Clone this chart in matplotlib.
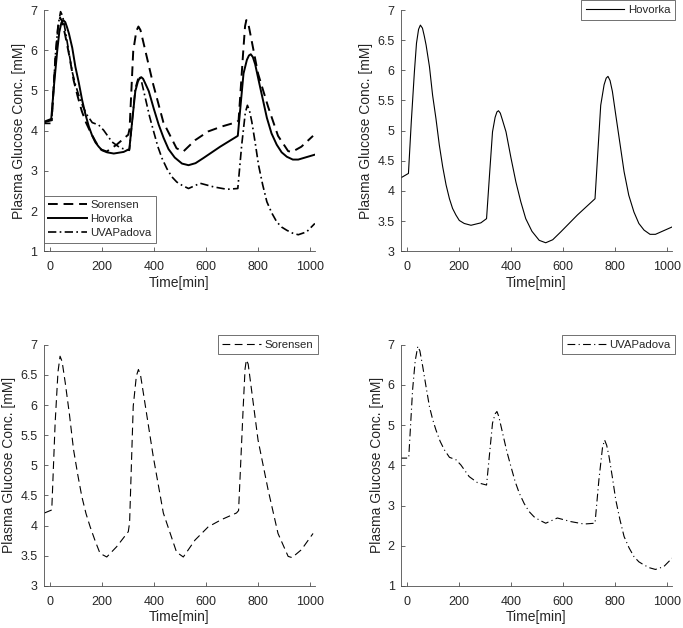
import matplotlib
matplotlib.use("Agg")
import matplotlib.pyplot as plt

plt.rcParams['font.family'] = ['Liberation Sans', 'DejaVu Sans']

# readings from the reference (time in min, glucose in mM)
hov_t = [-28, 4, 15, 27, 35, 43, 50, 58, 65, 72, 85, 97, 110, 123, 136, 149, 162, 174, 187, 200,
         219, 245, 283, 305, 317, 328, 338, 345, 351, 358, 366, 380, 399, 418, 437, 456, 480, 508, 533, 560,
         591, 655, 723, 734, 745, 758, 766, 773, 781, 790, 803, 818, 835, 853, 873, 892, 912, 935, 956, 1019]
hov_v = [4.21, 4.29, 5.15, 5.98, 6.45, 6.68, 6.75, 6.70, 6.57, 6.42, 6.06, 5.59, 5.20, 4.76, 4.40, 4.10, 3.87, 3.71, 3.60, 3.51,
         3.46, 3.43, 3.47, 3.54, 4.3, 4.98, 5.22, 5.31, 5.33, 5.29, 5.18, 4.98, 4.55, 4.15, 3.82, 3.54, 3.33, 3.18, 3.14, 3.19,
         3.32, 3.60, 3.87, 4.65, 5.42, 5.76, 5.87, 5.90, 5.83, 5.65, 5.26, 4.82, 4.32, 3.93, 3.65, 3.46, 3.35, 3.28, 3.28, 3.40]

sor_t = [-22, 6, 19, 30, 38, 46, 58, 74, 90, 106, 122, 138, 154, 173, 192, 218, 256, 301, 306, 320,
         332, 340, 348, 359, 397, 436, 487, 513, 558, 609, 660, 718, 726, 744, 751, 756, 763, 776, 801, 840,
         878, 917, 932, 968, 1013]
sor_v = [4.21, 4.26, 5.7, 6.55, 6.81, 6.72, 6.37, 5.85, 5.26, 4.85, 4.48, 4.2, 3.98, 3.75, 3.54, 3.48, 3.65, 3.90, 4.05, 5.98,
         6.48, 6.59, 6.50, 6.20, 5.15, 4.21, 3.56, 3.48, 3.76, 3.98, 4.10, 4.21, 4.25, 5.98, 6.6, 6.75, 6.68, 6.25, 5.42, 4.59,
         3.87, 3.49, 3.47, 3.60, 3.87]

uva_t = [-31, 5, 20, 30, 40, 48, 59, 72, 85, 97, 110, 126, 142, 162, 187, 206, 238, 270, 305, 328,
         338, 345, 352, 367, 383, 399, 415, 431, 450, 469, 488, 508, 533, 578, 630, 681, 723, 738, 752, 760,
         768, 777, 790, 803, 819, 835, 854, 873, 892, 912, 934, 956, 988, 1020]
uva_v = [4.18, 4.18, 5.88, 6.6, 6.96, 6.85, 6.46, 5.95, 5.46, 5.15, 4.88, 4.6, 4.39, 4.20, 4.14, 4.01, 3.72, 3.57, 3.51, 5.05,
         5.28, 5.34, 5.22, 4.80, 4.35, 3.97, 3.6, 3.31, 3.05, 2.85, 2.72, 2.64, 2.56, 2.69, 2.60, 2.54, 2.56, 3.64, 4.45, 4.63,
         4.50, 4.22, 3.7, 3.14, 2.65, 2.23, 1.95, 1.73, 1.6, 1.52, 1.45, 1.41, 1.48, 1.69]

xticks = [0, 200, 400, 600, 800, 1000]
yticks_wide = [1, 2, 3, 4, 5, 6, 7]
yticks_narrow = [3, 3.5, 4, 4.5, 5, 5.5, 6, 6.5, 7]

DASH = (0, (7, 4))
DASHDOT = (0, (7, 3, 1, 3))
gray = '0.15'

fig = plt.figure(figsize=(6.83, 6.28), dpi=100)


def style(ax, yticks, ylim):
    ax.set_xlim(-25, 1020)
    ax.set_ylim(*ylim)
    ax.set_xticks(xticks)
    ax.set_yticks(yticks)
    ax.set_yticklabels([f'{v:g}' for v in yticks])
    for s in ['top', 'right']:
        ax.spines[s].set_visible(False)
    for s in ['left', 'bottom']:
        ax.spines[s].set_color('0.3')
        ax.spines[s].set_linewidth(0.6)
    ax.tick_params(direction='in', length=3, width=0.6, color='0.3',
                   labelcolor=gray, labelsize=9)
    ax.tick_params(axis='x', pad=7)
    ax.tick_params(axis='y', pad=4.5)
    ax.set_xlabel('Time[min]', fontsize=10, color=gray, labelpad=2)
    ax.set_ylabel('Plasma Glucose Conc. [mM]', fontsize=10, color=gray, labelpad=3)


leg_kw = dict(fontsize=8.2, frameon=True, fancybox=False, framealpha=1,
              edgecolor='0.35', handlelength=3.4, handletextpad=0.3,
              borderpad=0.4, labelspacing=0.35, borderaxespad=0)

# all three models
ax1 = fig.add_axes([0.064, 0.600, 0.397, 0.384])
ax1.plot(sor_t, sor_v, color='k', lw=1.4, linestyle=(0, (5, 3)), label='Sorensen')
ax1.plot(hov_t, hov_v, color='k', lw=1.4, linestyle='-', label='Hovorka')
ax1.plot(uva_t, uva_v, color='k', lw=1.2, linestyle=(0, (5, 2, 1, 2)), label='UVAPadova')
style(ax1, yticks_wide, (1, 7))
lg = ax1.legend(loc='lower left', bbox_to_anchor=(0.0, 0.035), **leg_kw)
lg.get_frame().set_linewidth(0.6)
for t in lg.get_texts():
    t.set_color(gray)

# Hovorka
ax2 = fig.add_axes([0.587, 0.600, 0.397, 0.384])
ax2.plot(hov_t, hov_v, color='k', lw=0.8, label='Hovorka')
style(ax2, yticks_narrow, (3, 7))

# Sorensen
ax3 = fig.add_axes([0.064, 0.067, 0.397, 0.384])
ax3.plot(sor_t, sor_v, color='k', lw=0.8, linestyle=DASH, label='Sorensen')
style(ax3, yticks_narrow, (3, 7))

# UVAPadova
ax4 = fig.add_axes([0.587, 0.067, 0.397, 0.384])
ax4.plot(uva_t, uva_v, color='k', lw=0.8, linestyle=DASHDOT, label='UVAPadova')
style(ax4, yticks_wide, (1, 7))

for ax in (ax2, ax3, ax4):
    lg = ax.legend(loc='upper right', bbox_to_anchor=(1.01, 1.04), **leg_kw)
    lg.get_frame().set_linewidth(0.6)
    for t in lg.get_texts():
        t.set_color(gray)

fig.savefig('out.png', dpi=100)
